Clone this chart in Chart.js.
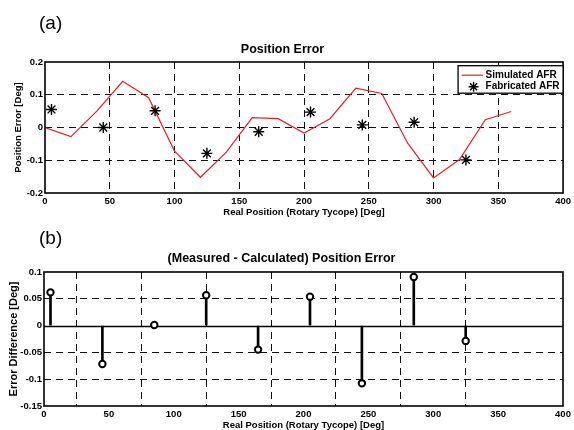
<!DOCTYPE html>
<html><head><meta charset="utf-8">
<script src="https://cdn.jsdelivr.net/npm/chart.js@4/dist/chart.umd.min.js"></script>
<style>
html,body{margin:0;padding:0;background:#fff;}
#wrap{position:relative;width:574px;height:430px;overflow:hidden;background:#fff;}
canvas{position:absolute;left:0;top:0;}
.lab{position:absolute;font-family:"Liberation Sans",Arial,sans-serif;font-size:19px;color:#000;line-height:1;white-space:nowrap;}
</style></head><body>
<div id="wrap">
<canvas id="c1" width="574" height="430"></canvas>
<canvas id="c2" width="574" height="430"></canvas>
<div class="lab" style="left:39px;top:12.7px">(a)</div>
<div class="lab" style="left:39px;top:227.7px">(b)</div>
</div>
<script>
// ---- data ----
const simX = [0,20,40,60,80,100,120,140,160,180,200,220,240,260,280,300,320,340,360];
const simY = [0,-0.028,0.05,0.141,0.091,-0.072,-0.152,-0.075,0.03,0.027,-0.017,0.027,0.12,0.104,-0.048,-0.154,-0.098,0.024,0.049];
const fabX = [5,45,85,125,165,205,245,285,325];
const fabY = [0.055,0,0.051,-0.079,-0.013,0.047,0.008,0.016,-0.099];
const diffY = [0.062,-0.0716,0.001,0.0565,-0.0448,0.054,-0.1077,0.0907,-0.0287];
const xTicks = [0,50,100,150,200,250,300,350,400];
const yTicksA = [-0.2,-0.1,0,0.1,0.2];
const yTicksB = [-0.15,-0.1,-0.05,0,0.05,0.1];
const seriesLabels = ['Simulated AFR','Fabricated AFR'];
const titleA = 'Position Error';
const titleB = '(Measured - Calculated) Position Error';
const xTitle = 'Real Position (Rotary Tycope) [Deg]';
const yTitleA = 'Position Error [Deg]';
const yTitleB = 'Error Difference [Deg]';

Chart.defaults.font.family = "'Liberation Sans', Arial, Helvetica, sans-serif";
Chart.defaults.font.weight = 'bold';
Chart.defaults.color = '#000';
Chart.defaults.animation = false;

const fmt = v => String(Math.round(v*1000)/1000);
const tickFont = {size:9.5, weight:'bold'};
const gridDash = [7,5];

function isEdge(v, arr){ return Math.abs(v-arr[0])<1e-9 || Math.abs(v-arr[arr.length-1])<1e-9; }

function makeX(height, titlePadBottom){
  return {
    type:'linear', min:xTicks[0], max:xTicks[xTicks.length-1], offset:false,
    afterBuildTicks: s => { s.ticks = xTicks.map(v=>({value:v})); },
    afterFit: s => { s.height = height; },
    ticks:{font:tickFont, padding:3, maxRotation:0, autoSkip:false, callback:v=>fmt(v)},
    grid:{drawTicks:false, lineWidth:1, color: c => (c.tick && isEdge(c.tick.value, xTicks)) ? 'rgba(0,0,0,0)' : '#111'},
    border:{display:false, dash:gridDash},
    title:{display:true, text:xTitle, font:{size:9.5, weight:'bold', lineHeight:1}, padding:{top:0, bottom:titlePadBottom}}
  };
}
function makeY(ticksArr, width, titleText, titleSize, titlePadTop, hideZero){
  return {
    type:'linear', min:ticksArr[0], max:ticksArr[ticksArr.length-1],
    afterBuildTicks: s => { s.ticks = ticksArr.map(v=>({value:v})); },
    afterFit: s => { s.width = width; },
    ticks:{font:tickFont, padding:2, autoSkip:false, callback:v=>fmt(v)},
    grid:{drawTicks:false, lineWidth:1, color: c => {
      if (!c.tick) return '#111';
      if (isEdge(c.tick.value, ticksArr)) return 'rgba(0,0,0,0)';
      if (hideZero && Math.abs(c.tick.value)<1e-9) return 'rgba(0,0,0,0)';
      return '#111';
    }},
    border:{display:false, dash:gridDash},
    title:{display:true, text:titleText, font:{size:titleSize, weight:'bold', lineHeight:1.2}, padding:{top:titlePadTop, bottom:0}}
  };
}

const framePlugin = {
  id:'frame',
  afterDatasetsDraw(chart){
    const a = chart.chartArea, ctx = chart.ctx;
    ctx.save(); ctx.strokeStyle = '#000'; ctx.lineWidth = 1.6; ctx.setLineDash([]);
    ctx.strokeRect(a.left, a.top, a.right-a.left, a.bottom-a.top);
    ctx.restore();
  }
};
const baselinePlugin = {
  id:'baseline',
  beforeDatasetsDraw(chart){
    const a = chart.chartArea, ctx = chart.ctx, y = Math.round(chart.scales.y.getPixelForValue(0))+0.5;
    ctx.save(); ctx.strokeStyle = '#000'; ctx.lineWidth = 1.3; ctx.setLineDash([]);
    ctx.beginPath(); ctx.moveTo(a.left, y); ctx.lineTo(a.right, y); ctx.stroke();
    ctx.restore();
  }
};
function drawStar(ctx, x, y, r){
  ctx.beginPath();
  for (let k=0;k<4;k++){
    const ang = k*Math.PI/4;
    ctx.moveTo(x - Math.cos(ang)*r, y - Math.sin(ang)*r);
    ctx.lineTo(x + Math.cos(ang)*r, y + Math.sin(ang)*r);
  }
  ctx.stroke();
}
const legendPlugin = {
  id:'boxLegend',
  afterDraw(chart){
    const a = chart.chartArea, ctx = chart.ctx;
    const w = 105, h = 27.5;
    const x0 = a.right - w, y0 = a.top + 3.7;
    ctx.save();
    ctx.fillStyle = '#fff'; ctx.fillRect(x0, y0, w, h);
    ctx.strokeStyle = '#000'; ctx.lineWidth = 1.3; ctx.setLineDash([]);
    ctx.strokeRect(x0, y0, w, h);
    const ds0 = chart.data.datasets[1], ds1 = chart.data.datasets[0];
    const r1 = y0 + 9.5, r2 = y0 + 21;
    ctx.strokeStyle = ds0.borderColor; ctx.lineWidth = 1.2;
    ctx.beginPath(); ctx.moveTo(x0+3.5, r1); ctx.lineTo(x0+25, r1); ctx.stroke();
    ctx.strokeStyle = '#000'; ctx.lineWidth = 1.4;
    drawStar(ctx, x0+15.5, r2, 5);
    ctx.fillStyle = '#000'; ctx.font = "bold 10px 'Liberation Sans', Arial, sans-serif";
    ctx.textBaseline = 'middle'; ctx.textAlign = 'left';
    ctx.fillText(ds0.label, x0+27.5, r1);
    ctx.fillText(ds1.label, x0+27.5, r2);
    ctx.restore();
  }
};

new Chart(document.getElementById('c1'), {
  type:'scatter',
  data:{datasets:[
    {label:seriesLabels[1], data:fabX.map((x,i)=>({x, y:fabY[i]})), pointStyle:'star', pointRadius:5.5, borderColor:'#000', backgroundColor:'#000', pointBorderWidth:1.4, showLine:false},
    {label:seriesLabels[0], data:simX.map((x,i)=>({x, y:simY[i]})), showLine:true, pointRadius:0, borderColor:'rgb(235,30,35)', borderWidth:1.2, tension:0, fill:false}
  ]},
  options:{
    responsive:false, devicePixelRatio:1, events:[],
    layout:{padding:{left:0, right:9, top:0, bottom:430-219}},
    plugins:{
      legend:{display:false}, tooltip:{enabled:false},
      title:{display:true, text:titleA, font:{size:12.5, weight:'bold'}, padding:{top:42, bottom:5}}
    },
    scales:{ x: makeX(26, 2.3), y: makeY(yTicksA, 45, yTitleA, 9.5, 12.3, false) }
  },
  plugins:[framePlugin, legendPlugin]
});

new Chart(document.getElementById('c2'), {
  type:'scatter',
  data:{datasets:[
    {label:'Difference', data:fabX.map((x,i)=>({x, y:diffY[i]})), pointStyle:'circle', pointRadius:3.2, pointBorderWidth:2, borderColor:'#000', backgroundColor:'#fff', showLine:false},
    {type:'bar', label:'Stem', data:fabX.map((x,i)=>({x, y:diffY[i]})), backgroundColor:'#000', borderWidth:0, barThickness:2}
  ]},
  options:{
    responsive:false, devicePixelRatio:1, events:[],
    layout:{padding:{left:0, right:11, top:0, bottom:0}},
    plugins:{
      legend:{display:false}, tooltip:{enabled:false},
      title:{display:true, text:titleB, font:{size:12.5, weight:'bold'}, padding:{top:250.8, bottom:6.2}}
    },
    scales:{ x: makeX(24, 0), y: makeY(yTicksB, 44, yTitleB, 11, 6.9, true) }
  },
  plugins:[framePlugin, baselinePlugin]
});
</script>
</body></html>
